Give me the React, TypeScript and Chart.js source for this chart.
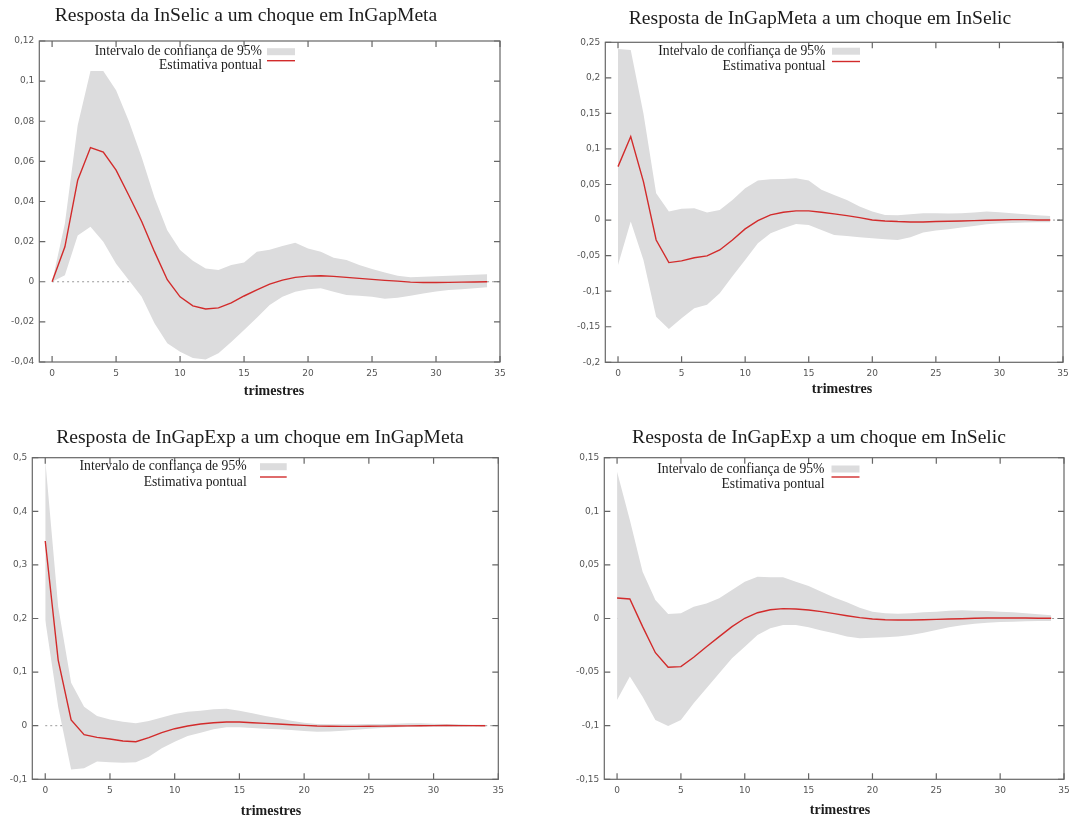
import React, { useEffect, useRef } from 'react';
import { Chart, registerables } from 'chart.js';

Chart.register(...registerables);

// ---------- data ----------
const QUARTERS = [0, 1, 2, 3, 4, 5, 6, 7, 8, 9, 10, 11, 12, 13, 14, 15, 16, 17, 18, 19, 20, 21, 22, 23, 24, 25, 26, 27, 28, 29, 30, 31, 32, 33, 34];
const X_TICKS = [0, 5, 10, 15, 20, 25, 30, 35];

const BAND_LABEL = 'Intervalo de confiança de 95%';
const POINT_LABEL = 'Estimativa pontual';
const X_TITLE = 'trimestres';

const TITLE_SELIC_META = 'Resposta da InSelic a um choque em InGapMeta';
const TITLE_META_SELIC = 'Resposta de InGapMeta a um choque em InSelic';
const TITLE_EXP_META = 'Resposta de InGapExp a um choque em InGapMeta';
const TITLE_EXP_SELIC = 'Resposta de InGapExp a um choque em InSelic';

// Resposta da InSelic a um choque em InGapMeta
const SELIC_META_POINT = [0, 0.0174, 0.0506, 0.0669, 0.0646, 0.0556, 0.043, 0.030, 0.015, 0.001, -0.0075, -0.012, -0.0136, -0.013, -0.0105, -0.0071, -0.0041, -0.0012, 0.0008, 0.0022, 0.0028, 0.003, 0.0027, 0.0022, 0.0017, 0.0012, 0.0007, 0.0003, -0.0002, -0.0004, -0.0004, -0.0003, -0.0002, -0.0001, 0];
const SELIC_META_UPPER = [0, 0.029, 0.078, 0.105, 0.105, 0.0954, 0.080, 0.062, 0.042, 0.0257, 0.0158, 0.0105, 0.0066, 0.0058, 0.0083, 0.0096, 0.0149, 0.016, 0.0178, 0.0194, 0.0166, 0.0149, 0.012, 0.0108, 0.0083, 0.0063, 0.0046, 0.003, 0.0022, 0.0025, 0.0028, 0.003, 0.0032, 0.0035, 0.0038];
const SELIC_META_LOWER = [0, 0.0033, 0.023, 0.0274, 0.020, 0.009, 0.0008, -0.0075, -0.0207, -0.0307, -0.0349, -0.038, -0.0387, -0.0357, -0.030, -0.024, -0.018, -0.0116, -0.0075, -0.005, -0.0038, -0.0033, -0.005, -0.0066, -0.007, -0.0075, -0.0085, -0.008, -0.007, -0.0058, -0.0048, -0.0041, -0.0037, -0.0032, -0.0028];

// Resposta de InGapMeta a um choque em InSelic
const META_SELIC_POINT = [0.0752, 0.1174, 0.054, -0.028, -0.0598, -0.0574, -0.053, -0.0504, -0.042, -0.028, -0.0124, -0.0007, 0.0073, 0.011, 0.0129, 0.0129, 0.011, 0.0087, 0.0063, 0.0035, 0.0002, -0.0012, -0.0021, -0.0026, -0.0026, -0.0021, -0.0016, -0.0012, -0.0007, -0.0002, 0.0002, 0.0007, 0.0007, 0.0002, 0.0002];
const META_SELIC_UPPER = [0.2407, 0.239, 0.150, 0.0377, 0.012, 0.016, 0.0166, 0.0105, 0.0143, 0.0284, 0.0448, 0.0556, 0.0574, 0.0579, 0.0588, 0.0556, 0.0425, 0.0354, 0.0284, 0.019, 0.012, 0.0073, 0.0068, 0.0082, 0.0096, 0.0096, 0.0091, 0.0096, 0.0105, 0.012, 0.011, 0.0096, 0.0082, 0.0068, 0.0059];
const META_SELIC_LOWER = [-0.063, -0.002, -0.056, -0.136, -0.153, -0.138, -0.124, -0.119, -0.103, -0.079, -0.056, -0.0326, -0.0185, -0.0115, -0.0054, -0.0068, -0.0138, -0.0209, -0.0223, -0.0241, -0.0255, -0.027, -0.0279, -0.0241, -0.0176, -0.0148, -0.0129, -0.0105, -0.0082, -0.0059, -0.0045, -0.004, -0.0035, -0.003, -0.003];

// Resposta de InGapExp a um choque em InGapMeta
const EXP_META_POINT = [0.3445, 0.1225, 0.0106, -0.0168, -0.0218, -0.0249, -0.0286, -0.0299, -0.0224, -0.013, -0.0056, -0.0006, 0.0031, 0.0056, 0.0068, 0.0068, 0.0056, 0.0044, 0.0031, 0.0019, 0.0006, -0.0005, -0.001, -0.0012, -0.0012, -0.001, -0.0008, -0.0006, -0.0003, 0, 0.0002, 0.0003, 0.0002, 0.0001, 0];
const EXP_META_UPPER = [0.496, 0.222, 0.080, 0.0354, 0.018, 0.0118, 0.0075, 0.0044, 0.0087, 0.0155, 0.0218, 0.026, 0.028, 0.0305, 0.0317, 0.028, 0.023, 0.018, 0.0137, 0.0093, 0.0056, 0.0031, 0.0025, 0.0025, 0.0025, 0.0031, 0.0031, 0.0037, 0.0044, 0.0044, 0.0037, 0.0031, 0.0025, 0.0019, 0.0019];
const EXP_META_LOWER = [0.197, 0.0354, -0.0815, -0.0796, -0.067, -0.0684, -0.069, -0.0684, -0.058, -0.0423, -0.0299, -0.0193, -0.013, -0.0068, -0.0031, -0.0031, -0.0044, -0.0056, -0.0068, -0.0081, -0.01, -0.0112, -0.0106, -0.0093, -0.0075, -0.0056, -0.0044, -0.0031, -0.0025, -0.0019, -0.0019, -0.0019, -0.0019, -0.0019, -0.0012];

// Resposta de InGapExp a um choque em InSelic
const EXP_SELIC_POINT = [0.0191, 0.0182, -0.0076, -0.0319, -0.0455, -0.0449, -0.0362, -0.0263, -0.0169, -0.0076, 0.0002, 0.0054, 0.0082, 0.0092, 0.0089, 0.0079, 0.0064, 0.0045, 0.0026, 0.0008, -0.0005, -0.0011, -0.0014, -0.0014, -0.0011, -0.0008, -0.0005, -0.0002, 0.0002, 0.0005, 0.0005, 0.0005, 0.0005, 0.0002, 0.0002];
const EXP_SELIC_UPPER = [0.137, 0.092, 0.0437, 0.0173, 0.0042, 0.0048, 0.011, 0.0141, 0.0188, 0.0266, 0.0343, 0.039, 0.0384, 0.0384, 0.0343, 0.0303, 0.025, 0.0197, 0.0151, 0.0101, 0.0064, 0.0048, 0.0045, 0.0048, 0.0058, 0.0064, 0.0073, 0.0076, 0.0073, 0.007, 0.0064, 0.0058, 0.0048, 0.0039, 0.003];
const EXP_SELIC_LOWER = [-0.076, -0.0542, -0.073, -0.0947, -0.1003, -0.0947, -0.0791, -0.0651, -0.0511, -0.0371, -0.0263, -0.0154, -0.0092, -0.0061, -0.0061, -0.0082, -0.0113, -0.0138, -0.0169, -0.0185, -0.0179, -0.0176, -0.0169, -0.0154, -0.0132, -0.0107, -0.0082, -0.0064, -0.0048, -0.0039, -0.0033, -0.003, -0.0026, -0.0023, -0.0023];

// ---------- styles / layout ----------
const BAND_COLOR = '#dcdcdd';
const LINE_COLOR = '#d22b2b';
const AXIS_COLOR = '#666666';
const TICK_TEXT = '#555555';
const TEXT_COLOR = '#1c1c1c';
const SERIF = '"Liberation Serif", "Times New Roman", serif';
const SANS = '"DejaVu Sans", Verdana, sans-serif';

type Panel = {
  title: string;
  point: number[];
  upper: number[];
  lower: number[];
  yMin: number;
  yMax: number;
  yStep: number;
  box: { left: number; top: number; width: number; height: number };
  area: { left: number; top: number; right: number; bottom: number };
  titlePos: { x: number; y: number };
  xTitlePos: { x: number; y: number };
  legend: { textRight: number; swatchLeft: number; swatchRight: number; row1: number; row2: number; lineY: number };
};

const PANELS: Panel[] = [
  {
    title: TITLE_SELIC_META, point: SELIC_META_POINT, upper: SELIC_META_UPPER, lower: SELIC_META_LOWER,
    yMin: -0.04, yMax: 0.12, yStep: 0.02,
    box: { left: 0, top: 0, width: 520, height: 400 },
    area: { left: 39.3, top: 41, right: 500, bottom: 362 },
    titlePos: { x: 246, y: 16 }, xTitlePos: { x: 274, y: 391 },
    legend: { textRight: 262, swatchLeft: 267, swatchRight: 295, row1: 51.7, row2: 65, lineY: 60.7 },
  },
  {
    title: TITLE_META_SELIC, point: META_SELIC_POINT, upper: META_SELIC_UPPER, lower: META_SELIC_LOWER,
    yMin: -0.2, yMax: 0.25, yStep: 0.05,
    box: { left: 530, top: 0, width: 546, height: 400 },
    area: { left: 605.3, top: 42.3, right: 1063, bottom: 362.3 },
    titlePos: { x: 820, y: 19 }, xTitlePos: { x: 842, y: 389 },
    legend: { textRight: 825.5, swatchLeft: 832, swatchRight: 860, row1: 51.2, row2: 66, lineY: 61.5 },
  },
  {
    title: TITLE_EXP_META, point: EXP_META_POINT, upper: EXP_META_UPPER, lower: EXP_META_LOWER,
    yMin: -0.1, yMax: 0.5, yStep: 0.1,
    box: { left: 0, top: 420, width: 520, height: 400 },
    area: { left: 32.3, top: 457.7, right: 498.3, bottom: 779.3 },
    titlePos: { x: 260, y: 437.5 }, xTitlePos: { x: 271, y: 811.5 },
    legend: { textRight: 246.7, swatchLeft: 260, swatchRight: 286.7, row1: 466.7, row2: 482.3, lineY: 477 },
  },
  {
    title: TITLE_EXP_SELIC, point: EXP_SELIC_POINT, upper: EXP_SELIC_UPPER, lower: EXP_SELIC_LOWER,
    yMin: -0.15, yMax: 0.15, yStep: 0.05,
    box: { left: 530, top: 420, width: 546, height: 400 },
    area: { left: 604.3, top: 457.7, right: 1064, bottom: 779.3 },
    titlePos: { x: 819, y: 438 }, xTitlePos: { x: 840, y: 810 },
    legend: { textRight: 824.5, swatchLeft: 831.5, swatchRight: 859.5, row1: 469, row2: 484, lineY: 477 },
  },
];

function fmtTick(v: number | string) {
  const n = Math.round(Number(v) * 1e6) / 1e6;
  return String(n).replace('.', ',');
}

function decorPlugin(p: Panel) {
  const ox = p.box.left;
  const oy = p.box.top;
  return {
    id: 'panelDecor',
    beforeDatasetsDraw(chart: any) {
      const { ctx, chartArea, scales } = chart;
      const y0 = scales.y.getPixelForValue(0);
      const x0 = scales.x.getPixelForValue(0);
      ctx.save();
      ctx.strokeStyle = '#9a9a9a';
      ctx.lineWidth = 1;
      ctx.setLineDash([2, 3]);
      ctx.beginPath();
      ctx.moveTo(x0, y0);
      ctx.lineTo(chartArea.right, y0);
      ctx.stroke();
      ctx.restore();
    },
    afterDraw(chart: any) {
      const { ctx, chartArea, scales } = chart;
      const { left, right, top, bottom } = chartArea;
      ctx.save();
      // frame
      ctx.strokeStyle = AXIS_COLOR;
      ctx.lineWidth = 1.2;
      ctx.strokeRect(left, top, right - left, bottom - top);
      // inward ticks, mirrored
      const TL = 6;
      ctx.beginPath();
      scales.x.ticks.forEach((t: any) => {
        const x = scales.x.getPixelForValue(t.value);
        ctx.moveTo(x, bottom);
        ctx.lineTo(x, bottom - TL);
        ctx.moveTo(x, top);
        ctx.lineTo(x, top + TL);
      });
      scales.y.ticks.forEach((t: any) => {
        const y = scales.y.getPixelForValue(t.value);
        ctx.moveTo(left, y);
        ctx.lineTo(left + TL, y);
        ctx.moveTo(right, y);
        ctx.lineTo(right - TL, y);
      });
      ctx.stroke();
      // title
      ctx.fillStyle = TEXT_COLOR;
      ctx.font = `19.6px ${SERIF}`;
      ctx.textAlign = 'center';
      ctx.textBaseline = 'middle';
      ctx.fillText(p.title, p.titlePos.x - ox, p.titlePos.y - oy);
      // x axis title
      ctx.font = `bold 14px ${SERIF}`;
      ctx.fillText(X_TITLE, p.xTitlePos.x - ox, p.xTitlePos.y - oy);
      // legend
      const lg = p.legend;
      const ds = chart.data.datasets;
      ctx.font = `13.7px ${SERIF}`;
      ctx.textAlign = 'right';
      ctx.fillText(ds[0].label, lg.textRight - ox, lg.row1 - oy);
      ctx.fillText(ds[2].label, lg.textRight - ox, lg.row2 - oy);
      ctx.fillStyle = BAND_COLOR;
      ctx.fillRect(lg.swatchLeft - ox, lg.row1 - oy - 3.5, lg.swatchRight - lg.swatchLeft, 7);
      ctx.strokeStyle = LINE_COLOR;
      ctx.lineWidth = 1.4;
      ctx.beginPath();
      ctx.moveTo(lg.swatchLeft - ox, lg.lineY - oy);
      ctx.lineTo(lg.swatchRight - ox, lg.lineY - oy);
      ctx.stroke();
      ctx.restore();
    },
  };
}

function buildConfig(p: Panel): any {
  const toXY = (arr: number[]) => arr.map((y, i) => ({ x: QUARTERS[i], y }));
  const yW = p.area.left - p.box.left;
  const xH = p.box.top + p.box.height - p.area.bottom;
  return {
    type: 'line',
    data: {
      datasets: [
        {
          label: BAND_LABEL,
          data: toXY(p.upper),
          borderColor: 'rgba(0,0,0,0)',
          borderWidth: 0,
          backgroundColor: BAND_COLOR,
          pointRadius: 0,
          fill: '+1',
          tension: 0,
          order: 2,
        },
        {
          label: BAND_LABEL + ' (inferior)',
          data: toXY(p.lower),
          borderColor: 'rgba(0,0,0,0)',
          borderWidth: 0,
          backgroundColor: BAND_COLOR,
          pointRadius: 0,
          fill: false,
          tension: 0,
          order: 1,
        },
        {
          label: POINT_LABEL,
          data: toXY(p.point),
          borderColor: LINE_COLOR,
          borderWidth: 1.4,
          pointRadius: 0,
          fill: false,
          tension: 0,
          order: 0,
        },
      ],
    },
    options: {
      animation: false,
      responsive: false,
      maintainAspectRatio: false,
      devicePixelRatio: 1,
      events: [],
      layout: {
        padding: {
          left: 0,
          top: p.area.top - p.box.top,
          right: p.box.left + p.box.width - p.area.right,
          bottom: 0,
        },
      },
      plugins: {
        legend: { display: false },
        title: { display: false },
        tooltip: { enabled: false },
      },
      scales: {
        x: {
          type: 'linear',
          min: -1,
          max: 35,
          afterBuildTicks: (s: any) => {
            s.ticks = X_TICKS.map((v) => ({ value: v }));
          },
          afterFit: (s: any) => {
            s.height = xH;
          },
          grid: { display: false, drawTicks: false },
          border: { display: false },
          ticks: {
            padding: 6,
            color: TICK_TEXT,
            font: { family: SANS, size: 9 },
            maxRotation: 0,
            autoSkip: false,
            callback: (v: any) => fmtTick(v),
          },
          title: { display: false },
        },
        y: {
          type: 'linear',
          min: p.yMin,
          max: p.yMax,
          afterFit: (s: any) => {
            s.width = yW;
          },
          grid: { display: false, drawTicks: false },
          border: { display: false },
          ticks: {
            stepSize: p.yStep,
            padding: 5,
            color: TICK_TEXT,
            font: { family: SANS, size: 9 },
            callback: (v: any) => fmtTick(v),
          },
        },
      },
    },
    plugins: [decorPlugin(p)],
  };
}

function PanelChart({ p }: { p: Panel }) {
  const ref = useRef<HTMLCanvasElement>(null);
  useEffect(() => {
    if (!ref.current) return;
    const chart = new Chart(ref.current, buildConfig(p));
    return () => chart.destroy();
  }, [p]);
  return (
    <canvas
      ref={ref}
      width={p.box.width}
      height={p.box.height}
      style={{ position: 'absolute', left: p.box.left, top: p.box.top, width: p.box.width, height: p.box.height }}
    />
  );
}

export default function App() {
  return (
    <div
      style={{
        position: 'absolute',
        left: 0,
        top: 0,
        width: 1076,
        height: 819,
        overflow: 'hidden',
        background: '#ffffff',
      }}
    >
      {PANELS.map((p, i) => (
        <PanelChart key={i} p={p} />
      ))}
    </div>
  );
}
